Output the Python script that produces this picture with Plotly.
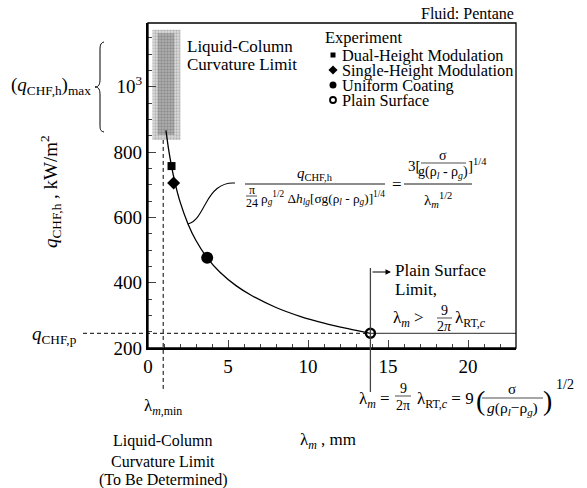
import plotly.graph_objects as go

# ---------------- data ----------------
curve_lambda = [1.12, 1.3, 1.47, 1.7, 2.0, 2.5, 3.0, 3.7, 4.5, 5.5, 6.5, 8.0, 9.5, 11.0, 12.5, 13.9]
curve_q = [866, 804, 757, 703, 648, 580, 529, 476, 432, 391, 360, 324, 297, 276, 259, 245]
plain_limit_lambda = [13.9, 23.0]
plain_limit_q = [245, 245]
exp_names = ["Dual-Height Modulation", "Single-Height Modulation", "Uniform Coating", "Plain Surface"]
exp_lambda = [1.47, 1.6, 3.7, 13.9]
exp_q = [757, 705, 476, 245]
exp_symbols = ["square", "diamond", "circle", "circle-open"]
lambda_min = 0.95
lambda_plain = 13.9
q_chf_p = 245
curvature_lambda = [0.28, 2.03]
curvature_core_lambda = [0.6, 1.65]
curvature_q = [837, 1174]
x_ticks = [0, 5, 10, 15, 20]
y_ticks = [200, 400, 600, 800, 1000]
y_ticklabels = ["200", "400", "600", "800", "10<sup>3</sup>"]

# ---------------- layout helpers ----------------
W, H = 587, 488
L, R, T, B = 148, 71, 23, 140
XR = [0, 23.0]
YR = [200, 1195]
FONT = "Liberation Serif"


def px(x):
    return (x - L) / (W - L - R)


def py(y):
    return (H - B - y) / (H - T - B)


def dx(x):
    return (x - XR[0]) / (XR[1] - XR[0])


def dy(y):
    return (y - YR[0]) / (YR[1] - YR[0])


fig = go.Figure()

# stippled curvature-limit region (bars with dot pattern)
fig.add_trace(go.Bar(x=[sum(curvature_lambda) / 2], y=[curvature_q[1] - curvature_q[0]],
                     base=[curvature_q[0]], width=[curvature_lambda[1] - curvature_lambda[0]],
                     marker=dict(color="#d9d9d9", line=dict(width=0),
                                 pattern=dict(shape=".", fgcolor="#8a8a8a", bgcolor="#dcdcdc",
                                              size=3, solidity=0.45)),
                     showlegend=False, hoverinfo="skip"))
fig.add_trace(go.Bar(x=[sum(curvature_core_lambda) / 2], y=[curvature_q[1] - curvature_q[0] - 25],
                     base=[curvature_q[0] + 15], width=[curvature_core_lambda[1] - curvature_core_lambda[0]],
                     marker=dict(color="#aaaaaa", line=dict(width=0),
                                 pattern=dict(shape=".", fgcolor="#666666", bgcolor="#b4b4b4",
                                              size=3, solidity=0.5)),
                     showlegend=False, hoverinfo="skip"))

# theoretical curve
fig.add_trace(go.Scatter(x=curve_lambda, y=curve_q, mode="lines",
                         line=dict(color="black", width=1.3, shape="spline"),
                         showlegend=False, hoverinfo="skip"))
fig.add_trace(go.Scatter(x=plain_limit_lambda, y=plain_limit_q, mode="lines",
                         line=dict(color="#555", width=1.3),
                         showlegend=False, hoverinfo="skip"))

# experimental points
sizes = [8, 10, 12, 9]
for name, xv, yv, sym, s in zip(exp_names, exp_lambda, exp_q, exp_symbols, sizes):
    fig.add_trace(go.Scatter(x=[xv], y=[yv], mode="markers", name=name,
                             marker=dict(symbol=sym, size=s, color="black",
                                         line=dict(color="black", width=2.5 if "open" in sym else 0)),
                             showlegend=False, cliponaxis=False))

# legend swatches on an overlay axis in plot-fraction coordinates
leg_y_px = [55, 70, 85, 100]
leg_sizes = [5, 7, 7, 6]
for name, sym, yy, s in zip(exp_names, exp_symbols, leg_y_px, leg_sizes):
    fig.add_trace(go.Scatter(x=[px(333)], y=[py(yy)], xaxis="x2", yaxis="y2", mode="markers",
                             marker=dict(symbol=sym, size=s, color="black",
                                         line=dict(color="black", width=1.8 if "open" in sym else 0)),
                             showlegend=False, cliponaxis=False, hoverinfo="skip"))

shapes = []
# box top/right
shapes.append(dict(type="rect", xref="paper", yref="paper", x0=0, x1=1, y0=0, y1=1,
                   line=dict(color="black", width=1.3)))
# dashed q_CHF,p line
shapes.append(dict(type="line", xref="paper", yref="paper", x0=px(83), x1=dx(lambda_plain),
                   y0=dy(q_chf_p), y1=dy(q_chf_p), line=dict(color="black", width=1, dash="4px,3px")))
# dashed lambda_min line
shapes.append(dict(type="line", xref="paper", yref="paper", x0=dx(lambda_min), x1=dx(lambda_min),
                   y0=dy(curvature_q[0]), y1=py(392), line=dict(color="black", width=1, dash="4px,3px")))
# plain surface limit vertical
shapes.append(dict(type="line", xref="paper", yref="paper", x0=dx(lambda_plain), x1=dx(lambda_plain),
                   y0=py(268), y1=py(392), line=dict(color="#444", width=1.3)))


def path(pts):
    s = ""
    for cmd, coords in pts:
        s += cmd + " " + " ".join("%.5f,%.5f" % (px(a), py(b)) for a, b in coords) + " "
    return s.strip()


# leader curve from equation to curve
shapes.append(dict(type="path", xref="paper", yref="paper",
                   path=path([("M", [(235, 183)]), ("C", [(220, 182), (212, 192), (206, 203)]),
                              ("C", [(200, 214), (196, 222), (188, 224)])]),
                   line=dict(color="black", width=1.1)))
# brace
shapes.append(dict(type="path", xref="paper", yref="paper",
                   path=path([("M", [(104, 42)]), ("C", [(100, 43), (100, 46), (100, 52)]),
                              ("L", [(100, 79)]), ("C", [(100, 84), (99, 87), (95, 87)]),
                              ("C", [(99, 87), (100, 90), (100, 95)]), ("L", [(100, 124)]),
                              ("C", [(100, 129), (100, 131), (104, 132)])]),
                   line=dict(color="black", width=1)))


def hline(x0, x1, y, w=0.9):
    shapes.append(dict(type="line", xref="paper", yref="paper", x0=px(x0), x1=px(x1),
                       y0=py(y), y1=py(y), line=dict(color="black", width=w)))


# fraction bars
hline(245, 385, 184)      # main left fraction
hline(246, 257, 196, 0.7)  # pi/24
hline(404, 472, 184)      # main right fraction
hline(421, 466, 163, 0.7)  # sigma/g(...)
hline(437, 452, 318, 0.7)  # 9/2pi (plain limit)
hline(395, 411, 396, 0.7)  # 9/2pi bottom
hline(482, 543, 398, 0.7)  # sigma/g(...) bottom

annotations = []


def ann(text, x, y, xanchor="left", size=16, yanchor="middle", **kw):
    annotations.append(dict(text=text, x=px(x), y=py(y), xref="paper", yref="paper",
                            xanchor=xanchor, yanchor=yanchor, showarrow=False,
                            font=dict(family=FONT, size=size, color="black"), **kw))


lm = "λ<sub><i>m</i></sub>"
ann("Fluid: Pentane", 516, 13, xanchor="right", size=16)
ann("Liquid-Column", 185, 46, size=17)
ann("Curvature Limit", 185, 64, size=17)
ann("Experiment", 323, 37, size=16.5)
for name, yy in zip(exp_names, leg_y_px):
    ann(name, 340, yy, size=16.3)

ann("(<i>q</i><sub>CHF,h</sub>)<sub>max</sub>", 93, 86, xanchor="right", size=19)
annotations.append(dict(text="<i>q</i><sub>CHF,h</sub> , kW/m<sup>2</sup>", x=px(50), y=py(192),
                        xref="paper", yref="paper", textangle=-90, showarrow=False,
                        xanchor="center", yanchor="middle",
                        font=dict(family=FONT, size=19, color="black")))
ann("<i>q</i><sub>CHF,p</sub>", 79, 335, xanchor="right", size=19)

# equation
ann("<i>q</i><sub>CHF,h</sub>", 315, 174, xanchor="center", size=15)
ann("π", 251.5, 190, xanchor="center", size=12)
ann("24", 251.5, 203, xanchor="center", size=12)
ann("ρ<sub><i>g</i></sub><sup>1/2</sup> Δ<i>h</i><sub><i>lg</i></sub>[σg(ρ<sub><i>l</i></sub> - ρ<sub><i>g</i></sub>)]<sup>1/4</sup>",
    259, 198, size=13.3)
ann("=", 397, 184, xanchor="center", size=17)
ann("3[", 406, 166, size=15)
ann("σ", 443, 156, xanchor="center", size=14)
ann("g(ρ<sub><i>l</i></sub> - ρ<sub><i>g</i></sub>)", 443, 172, xanchor="center", size=14)
ann("]<sup>1/4</sup>", 466, 165, size=15)
ann(lm + "<sup>1/2</sup>", 438, 200, xanchor="center", size=15)

# plain surface limit
annotations.append(dict(x=px(391), y=py(272), ax=-20, ay=0, xref="paper", yref="paper",
                        text="", showarrow=True, arrowhead=2, arrowsize=1, arrowwidth=1.1,
                        arrowcolor="black"))
ann("Plain Surface", 393, 270, size=17)
ann("Limit,", 393, 289, size=17)
ann(lm + " >", 391, 319, size=17)
ann("9", 444.5, 310, xanchor="center", size=14)
ann("2<i>π</i>", 444.5, 326, xanchor="center", size=14)
ann("λ<sub>RT,<i>c</i></sub>", 453, 319, size=17)

# bottom annotations
ann("λ<sub><i>m</i>,min</sub>", 163, 407, xanchor="center", size=17)
ann("Liquid-Column", 163, 441, xanchor="center", size=16)
ann("Curvature Limit", 163, 461, xanchor="center", size=16)
ann("(To Be Determined)", 163, 480, xanchor="center", size=16)
ann(lm + " , mm", 328, 441, xanchor="center", size=17)

ann(lm + " =", 357, 400, size=17)
ann("9", 403, 389, xanchor="center", size=14)
ann("2π", 403, 405, xanchor="center", size=14)
ann("λ<sub>RT,<i>c</i></sub> = 9", 415, 400, size=17)
ann("(", 480, 400, xanchor="center", size=28)
ann("σ", 512, 389, xanchor="center", size=15)
ann("<i>g</i>(ρ<sub><i>l</i></sub>−ρ<sub><i>g</i></sub>)", 512, 408, xanchor="center", size=15.5)
ann(")", 547, 400, xanchor="center", size=28)
ann("1/2", 554, 384, size=14)

fig.update_layout(
    width=W, height=H, margin=dict(l=L, r=R, t=T, b=B),
    plot_bgcolor="white", paper_bgcolor="white",
    font=dict(family=FONT, size=16, color="black"),
    shapes=shapes, annotations=annotations, showlegend=False, barmode="overlay",
    xaxis=dict(range=XR, tickvals=x_ticks, ticks="inside", ticklen=8, tickwidth=1.2,
               showline=True, linewidth=2.2, linecolor="black", showgrid=False, zeroline=False,
               tickfont=dict(family=FONT, size=19),
               minor=dict(tickmode="linear", tick0=0, dtick=1, ticks="inside", ticklen=4, tickwidth=1)),
    yaxis=dict(range=YR, tickvals=y_ticks, ticktext=y_ticklabels, ticks="inside", ticklen=8, tickwidth=1.2,
               showline=True, linewidth=2.2, linecolor="black", showgrid=False, zeroline=False,
               tickfont=dict(family=FONT, size=19),
               minor=dict(tickmode="linear", tick0=0, dtick=50, ticks="inside", ticklen=4, tickwidth=1)),
    xaxis2=dict(overlaying="x", range=[0, 1], visible=False, anchor="y2"),
    yaxis2=dict(overlaying="y", range=[0, 1], visible=False, anchor="x2"),
)

fig.write_html("out.html")
